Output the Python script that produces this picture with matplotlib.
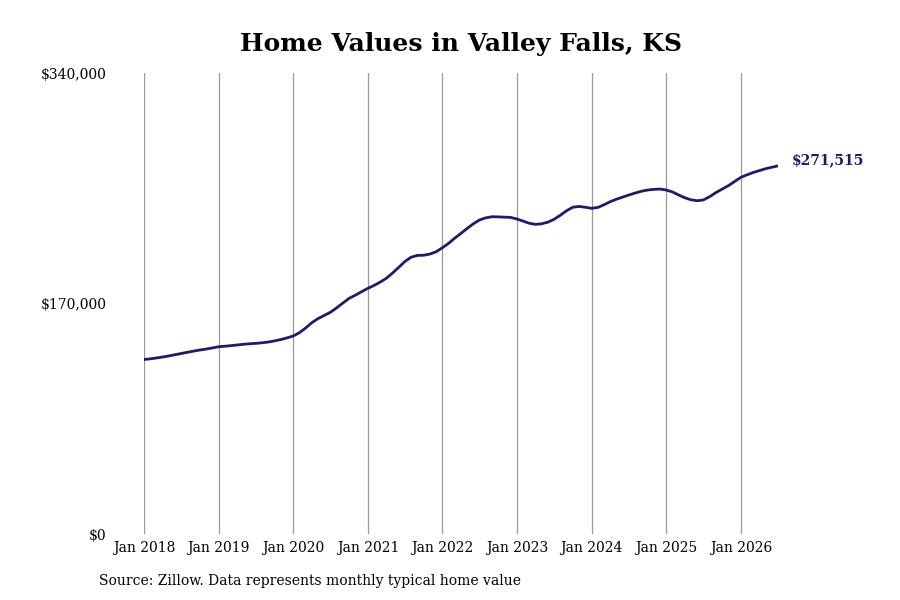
import matplotlib
matplotlib.use("Agg")
import matplotlib.pyplot as plt
import pandas as pd

dates = pd.date_range("2018-01-01", "2026-07-01", freq="MS")

values = [
    128700, 129200, 129800, 130500, 131300, 132200, 133100, 134000, 134900, 135700, 136400, 137200,
    138100, 138500, 138900, 139400, 139900, 140300, 140600, 141000, 141600, 142400, 143400, 144600,
    146000, 148500, 151800, 155800, 158800, 161200, 163500, 166800, 170400, 173800, 176200, 178700,
    181200, 183400, 185700, 188600, 192400, 196700, 201000, 204200, 205500, 205600, 206500, 208200,
    211200, 214500, 218100, 221700, 225300, 228800, 231600, 233200, 234000, 233900, 233700, 233500,
    232300, 230700, 229200, 228400, 228800, 230000, 232100, 235100, 238500, 241000, 241600, 241000,
    240200, 240900, 242800, 245100, 246900, 248500, 250000, 251500, 252800, 253700, 254200, 254400,
    253700, 252200, 250100, 248000, 246500, 245800, 246400, 248800, 251900, 254400, 257000, 260000,
    263100, 265000, 266600, 268000, 269400, 270500, 271515,
]

tick_years = list(range(2018, 2027))
tick_labels = ["Jan %d" % y for y in tick_years]
y_ticks = [0, 170000, 340000]
y_labels = ["$0", "$170,000", "$340,000"]

navy = "#1c1c6c"

plt.rcParams["font.family"] = "DejaVu Serif"

fig = plt.figure(figsize=(9, 6), dpi=100)
ax = fig.add_axes([0.16, 0.11, 0.7044, 0.7683])

ax.plot(dates, values, color=navy, linewidth=2.0, solid_capstyle="round")

ax.set_xlim(dates[0], dates[-1])
ax.set_ylim(0, 340000)

ax.set_xticks([pd.Timestamp("%d-01-01" % y) for y in tick_years])
ax.set_xticklabels(tick_labels, fontsize=10)
ax.set_yticks(y_ticks)
ax.set_yticklabels(y_labels, fontsize=10)

ax.tick_params(axis="both", length=0)
ax.tick_params(axis="x", pad=5)
ax.tick_params(axis="y", pad=27)
ax.grid(axis="x", color="#999999", linewidth=0.9)
ax.set_axisbelow(True)
for s in ax.spines.values():
    s.set_visible(False)

ax.annotate("$%s" % format(values[-1], ","), xy=(dates[-1], values[-1]),
            xytext=(10, 4), textcoords="offset points", ha="left", va="center",
            fontsize=10, fontweight="bold", color=navy)

fig.text(0.512, 0.927, "Home Values in Valley Falls, KS", ha="center", va="center",
         fontsize=18, fontweight="bold")
fig.text(0.11, 0.031, "Source: Zillow. Data represents monthly typical home value",
         ha="left", va="center", fontsize=10)

fig.savefig("out.png", dpi=100)
